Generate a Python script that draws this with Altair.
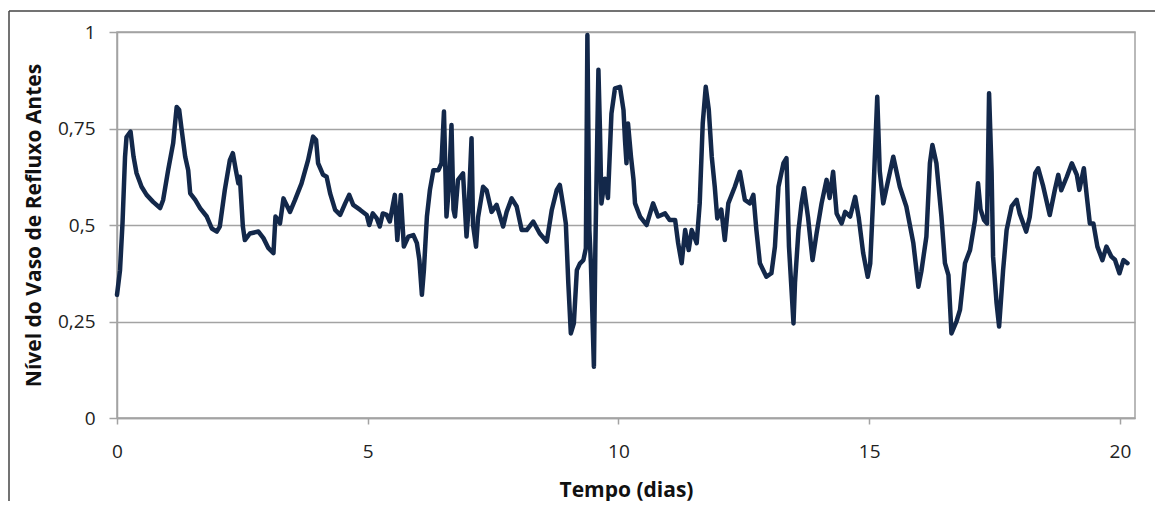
import altair as alt
import pandas as pd

# Tempo (dias)
tempo = [
    0.00, 0.06, 0.11, 0.16, 0.19, 0.27, 0.33, 0.39, 0.49, 0.59,
    0.72, 0.86, 0.92, 1.02, 1.12, 1.19, 1.24, 1.29, 1.36, 1.42,
    1.46, 1.56, 1.66, 1.79, 1.89, 1.99, 2.05, 2.15, 2.25, 2.31,
    2.37, 2.42, 2.45, 2.51, 2.55, 2.65, 2.82, 2.92, 3.02, 3.12,
    3.16, 3.20, 3.25, 3.32, 3.35, 3.45, 3.55, 3.68, 3.81, 3.91,
    3.97, 4.01, 4.11, 4.18, 4.25, 4.35, 4.45, 4.55, 4.63, 4.71,
    4.85, 4.98, 5.03, 5.10, 5.18, 5.24, 5.30, 5.38, 5.44, 5.54,
    5.59, 5.66, 5.72, 5.81, 5.91, 5.98, 6.03, 6.08, 6.12, 6.18,
    6.24, 6.31, 6.41, 6.47, 6.52, 6.57, 6.62, 6.67, 6.71, 6.74,
    6.80, 6.90, 6.97, 7.01, 7.07, 7.10, 7.16, 7.20, 7.30, 7.37,
    7.47, 7.57, 7.70, 7.77, 7.87, 7.97, 8.07, 8.17, 8.30, 8.43,
    8.57, 8.67, 8.77, 8.83, 8.90, 8.95, 9.00, 9.05, 9.11, 9.17,
    9.23, 9.30, 9.35, 9.38, 9.42, 9.45, 9.51, 9.54, 9.60, 9.63,
    9.66, 9.73, 9.79, 9.86, 9.93, 10.03, 10.10, 10.13, 10.16, 10.19,
    10.25, 10.30, 10.33, 10.43, 10.56, 10.69, 10.79, 10.93, 11.02, 11.13,
    11.19, 11.26, 11.33, 11.40, 11.46, 11.56, 11.62, 11.68, 11.74, 11.80,
    11.86, 11.92, 11.97, 12.05, 12.12, 12.19, 12.32, 12.42, 12.52, 12.62,
    12.69, 12.75, 12.82, 12.95, 13.05, 13.12, 13.19, 13.29, 13.35, 13.40,
    13.49, 13.52, 13.59, 13.65, 13.70, 13.78, 13.87, 13.95, 14.05, 14.15,
    14.21, 14.28, 14.35, 14.45, 14.52, 14.62, 14.72, 14.79, 14.88, 14.97,
    15.02, 15.08, 15.16, 15.21, 15.28, 15.38, 15.48, 15.61, 15.74, 15.88,
    15.98, 16.04, 16.14, 16.21, 16.26, 16.34, 16.44, 16.51, 16.58, 16.64,
    16.74, 16.81, 16.91, 17.01, 17.11, 17.17, 17.22, 17.29, 17.35, 17.39,
    17.44, 17.47, 17.54, 17.59, 17.67, 17.74, 17.84, 17.94, 18.00, 18.13,
    18.20, 18.31, 18.37, 18.47, 18.60, 18.70, 18.77, 18.83, 18.94, 19.04,
    19.14, 19.19, 19.28, 19.34, 19.40, 19.47, 19.55, 19.65, 19.73, 19.83,
    19.90, 19.99, 20.07, 20.15,
]

# Nível do Vaso de Refluxo Antes
nivel = [
    0.319, 0.383, 0.505, 0.676, 0.728, 0.742, 0.677, 0.634, 0.599, 0.578,
    0.560, 0.544, 0.565, 0.642, 0.712, 0.806, 0.798, 0.746, 0.677, 0.642,
    0.582, 0.565, 0.543, 0.522, 0.491, 0.483, 0.496, 0.591, 0.668, 0.686,
    0.642, 0.608, 0.625, 0.496, 0.461, 0.478, 0.483, 0.466, 0.440, 0.427,
    0.522, 0.515, 0.504, 0.569, 0.560, 0.534, 0.565, 0.608, 0.668, 0.729,
    0.720, 0.660, 0.630, 0.625, 0.582, 0.539, 0.526, 0.556, 0.578, 0.552,
    0.539, 0.526, 0.500, 0.530, 0.517, 0.496, 0.530, 0.526, 0.509, 0.578,
    0.461, 0.578, 0.444, 0.470, 0.474, 0.453, 0.409, 0.319, 0.383, 0.522,
    0.591, 0.642, 0.642, 0.660, 0.794, 0.522, 0.600, 0.759, 0.540, 0.522,
    0.617, 0.634, 0.470, 0.540, 0.725, 0.500, 0.444, 0.520, 0.599, 0.590,
    0.534, 0.552, 0.496, 0.534, 0.569, 0.548, 0.487, 0.487, 0.509, 0.478,
    0.457, 0.539, 0.591, 0.604, 0.548, 0.504, 0.349, 0.219, 0.245, 0.383,
    0.400, 0.409, 0.440, 0.992, 0.487, 0.400, 0.133, 0.450, 0.902, 0.750,
    0.556, 0.620, 0.570, 0.789, 0.854, 0.858, 0.798, 0.720, 0.660, 0.763,
    0.676, 0.617, 0.556, 0.522, 0.500, 0.556, 0.522, 0.530, 0.513, 0.513,
    0.453, 0.401, 0.487, 0.435, 0.487, 0.453, 0.556, 0.763, 0.858, 0.800,
    0.677, 0.599, 0.517, 0.540, 0.461, 0.556, 0.599, 0.638, 0.565, 0.556,
    0.578, 0.487, 0.401, 0.366, 0.375, 0.444, 0.599, 0.660, 0.673, 0.444,
    0.245, 0.350, 0.487, 0.556, 0.595, 0.520, 0.409, 0.478, 0.556, 0.617,
    0.570, 0.638, 0.530, 0.504, 0.534, 0.522, 0.573, 0.520, 0.427, 0.366,
    0.400, 0.573, 0.832, 0.640, 0.556, 0.617, 0.677, 0.599, 0.548, 0.453,
    0.340, 0.380, 0.470, 0.660, 0.707, 0.660, 0.522, 0.401, 0.370, 0.219,
    0.250, 0.280, 0.401, 0.435, 0.513, 0.608, 0.540, 0.513, 0.504, 0.841,
    0.640, 0.418, 0.297, 0.237, 0.383, 0.487, 0.548, 0.565, 0.530, 0.483,
    0.520, 0.634, 0.647, 0.600, 0.526, 0.590, 0.630, 0.590, 0.625, 0.660,
    0.630, 0.591, 0.647, 0.573, 0.504, 0.504, 0.444, 0.409, 0.444, 0.418,
    0.410, 0.375, 0.409, 0.401,
]

assert len(tempo) == len(nivel)

x_ticks = [0, 5, 10, 15, 20]
y_ticks = [0, 0.25, 0.5, 0.75, 1]

df = pd.DataFrame({"t": tempo, "n": nivel})

GRID = "#a3a3a3"
FONT = "Open Sans"

line = alt.Chart(df).mark_line(
    color="#13284a", strokeWidth=4.5, strokeJoin="round", strokeCap="round"
).encode(
    x=alt.X(
        "t:Q",
        scale=alt.Scale(domain=[0, 20.3], nice=False, zero=False),
        axis=alt.Axis(
            values=x_ticks, title="Tempo (dias)", grid=False,
            tickSize=6, labelPadding=18, labelFlush=False,
            titleY=72, titleBaseline="middle",
        ),
    ),
    y=alt.Y(
        "n:Q",
        scale=alt.Scale(domain=[0, 1], nice=False),
        axis=alt.Axis(
            values=y_ticks, title="Nível do Vaso de Refluxo Antes", grid=True,
            tickSize=8, labelPadding=14, labelFlush=False,
            labelExpr="replace(format(datum.value, '~g'), '.', ',')",
            titleX=-83, titleY=193, titleBaseline="middle",
        ),
    ),
)

frame_df = pd.DataFrame({"k": [0]})
left_edge = alt.Chart(frame_df).mark_rule(color="#444444", strokeWidth=1.5).encode(
    x=alt.value(-108), y=alt.value(-21), y2=alt.value(500)
)
top_edge = alt.Chart(frame_df).mark_rule(color="#444444", strokeWidth=1.5).encode(
    x=alt.value(-108), x2=alt.value(1080), y=alt.value(-21)
)

chart = alt.layer(left_edge, top_edge, line).properties(
    width=1018,
    height=386,
    autosize=alt.AutoSizeParams(type="none"),
    padding={"left": 109, "top": 24, "right": 20, "bottom": 83},
    background="white",
).configure_view(
    stroke=GRID, strokeWidth=1.5
).configure_axis(
    domainColor=GRID, domainWidth=1.5,
    tickColor=GRID, tickWidth=1.5,
    gridColor=GRID, gridWidth=1.5,
    labelFont=FONT, labelFontSize=19, labelColor="#222222",
    titleFont=FONT, titleFontSize=21, titleFontWeight="bold", titleColor="#111111",
)

chart.save("out.html", embed_options={"renderer": "svg", "actions": False})
